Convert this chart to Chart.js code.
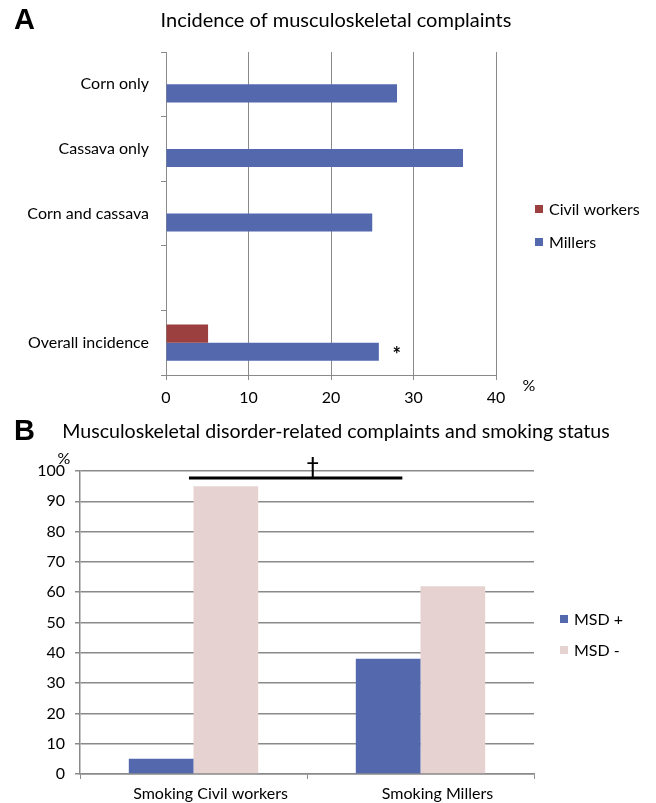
<!DOCTYPE html>
<html>
<head>
<meta charset="utf-8">
<script src="https://cdn.jsdelivr.net/npm/chart.js@4.4.1/dist/chart.umd.min.js"></script>
<style>
  html, body { margin: 0; padding: 0; background: #fff; }
  #wrapA { position: absolute; left: 0; top: 0; width: 656px; height: 410px; }
  #wrapB { position: absolute; left: 0; top: 410px; width: 656px; height: 393px; }
</style>
</head>
<body>
<div id="wrapA"><canvas id="chartA"></canvas></div>
<div id="wrapB"><canvas id="chartB"></canvas></div>
<script>
// panel A data
const groupsA = ["Corn only", "Cassava only", "Corn and cassava", "", "Overall incidence"]
const civilWorkers = [0, 0, 0, null, 5.1]
const millers = [28, 36, 25, null, 25.8]
const ticksA = [0, 10, 20, 30, 40]

// panel B data
const groupsB = ["Smoking Civil workers", "Smoking Millers"]
const msdPlus = [5, 38]
const msdMinus = [95, 62]
// significance bar (category index from/to, y value, dagger index)
const sigBar = { from: -0.02, to: 0.92, y: 97.7, mark: 0.525 }

const FONT = "Lato, 'Open Sans', sans-serif"
const BLUE = "#5468ae"
const RED = "#9b3f3f"
const PINK = "#e6d3d1"
const GRID = "#8a8a8a"

Chart.defaults.font.family = FONT
Chart.defaults.color = "#000"
Chart.defaults.animation = false

// draws panel letter, title, own legend and small marks
function extras(opts) {
  return {
    id: "extras",
    afterDraw(chart) {
      const ctx = chart.ctx
      const area = chart.chartArea
      ctx.save()
      ctx.fillStyle = "#000"
      ctx.textBaseline = "middle"
      // panel letter
      ctx.font = "bold 29px 'Liberation Sans', Arial, sans-serif"
      ctx.textAlign = "left"
      ctx.fillText(opts.letter, opts.letterX, opts.titleY)
      // title
      ctx.font = opts.titleSize + "px " + FONT
      ctx.textAlign = "center"
      ctx.fillText(opts.title, opts.titleX, opts.titleY)
      // legend
      ctx.font = "16px " + FONT
      ctx.textAlign = "left"
      opts.legendOrder.forEach((di, i) => {
        const ds = chart.data.datasets[di]
        const y = opts.legendY + i * opts.legendGap
        ctx.fillStyle = ds.backgroundColor
        ctx.fillRect(opts.legendX, y - 4, 8, 8)
        ctx.fillStyle = "#000"
        ctx.fillText(ds.label, opts.legendX + 14, y + 1)
      })
      // percent sign
      ctx.font = "16px " + FONT
      ctx.textAlign = "center"
      ctx.fillText("%", opts.pctX(area), opts.pctY(area))
      if (opts.more) opts.more(chart, ctx)
      ctx.restore()
    }
  }
}

new Chart(document.getElementById("chartA"), {
  type: "bar",
  data: {
    labels: groupsA,
    datasets: [
      { label: "Civil workers", data: civilWorkers, backgroundColor: RED },
      { label: "Millers", data: millers, backgroundColor: BLUE }
    ]
  },
  options: {
    indexAxis: "y",
    responsive: true,
    maintainAspectRatio: false,
    layout: { padding: { top: 52, right: 160, left: 0, bottom: 0 } },
    datasets: { bar: { categoryPercentage: 0.56, barPercentage: 1.0 } },
    plugins: { legend: { display: false }, tooltip: { enabled: false } },
    scales: {
      x: {
        min: 0, max: 40,
        afterBuildTicks(s) { s.ticks = ticksA.map(v => ({ value: v })) },
        afterFit(s) { s.height = 35 },
        grid: { color: GRID, lineWidth: 1, tickLength: 5 },
        border: { color: GRID, width: 1 },
        ticks: { padding: 8, font: { size: 16 }, color: "#000" }
      },
      y: {
        afterFit(s) { s.width = 166 },
        grid: { drawOnChartArea: false, color: GRID, tickLength: 5, offset: true },
        border: { color: GRID, width: 1 },
        ticks: { padding: 12, font: { size: 16 }, color: "#000" }
      }
    }
  },
  plugins: [extras({
    letter: "A", letterX: 14, titleY: 21,
    title: "Incidence of musculoskeletal complaints", titleSize: 20, titleX: 336,
    legendOrder: [0, 1], legendX: 535, legendY: 209, legendGap: 33,
    pctX: a => a.right + 33, pctY: a => a.bottom + 11,
    more(chart, ctx) {
      const bar = chart.getDatasetMeta(1).data[4]
      ctx.font = "bold 20px " + FONT
      ctx.textAlign = "center"
      ctx.fillText("*", bar.x + 18, bar.y + 4)
    }
  })]
})

new Chart(document.getElementById("chartB"), {
  type: "bar",
  data: {
    labels: groupsB,
    datasets: [
      { label: "MSD +", data: msdPlus, backgroundColor: BLUE },
      { label: "MSD -", data: msdMinus, backgroundColor: PINK }
    ]
  },
  options: {
    responsive: true,
    maintainAspectRatio: false,
    layout: { padding: { top: 61, right: 122, left: 0, bottom: 0 } },
    datasets: { bar: { categoryPercentage: 0.57, barPercentage: 1.0 } },
    plugins: { legend: { display: false }, tooltip: { enabled: false } },
    scales: {
      x: {
        afterFit(s) { s.height = 29 },
        grid: { drawOnChartArea: false, color: GRID, tickLength: 5, offset: true },
        border: { color: GRID, width: 1.5 },
        ticks: { padding: 5, labelOffset: 17, font: { size: 16 }, color: "#000" }
      },
      y: {
        min: 0, max: 100,
        afterFit(s) { s.width = 80 },
        grid: { color: GRID, lineWidth: 1.5, tickLength: 5 },
        border: { color: GRID, width: 1.5 },
        ticks: { stepSize: 10, padding: 10, font: { size: 16 }, color: "#000" }
      }
    }
  },
  plugins: [extras({
    letter: "B", letterX: 14, titleY: 22,
    title: "Musculoskeletal disorder-related complaints and smoking status", titleSize: 19.6, titleX: 336,
    legendOrder: [0, 1], legendX: 560, legendY: 209, legendGap: 31,
    pctX: a => a.left - 16, pctY: a => a.top - 12,
    more(chart, ctx) {
      const xs = chart.scales.x, ys = chart.scales.y
      const x1 = xs.getPixelForValue(sigBar.from)
      const x2 = xs.getPixelForValue(sigBar.to)
      const y = ys.getPixelForValue(sigBar.y)
      ctx.strokeStyle = "#000"
      ctx.lineWidth = 3
      ctx.beginPath()
      ctx.moveTo(x1, y)
      ctx.lineTo(x2, y)
      ctx.stroke()
      ctx.font = "24px 'DejaVu Sans', sans-serif"
      ctx.textAlign = "center"
      ctx.textBaseline = "bottom"
      ctx.fillText("\u2020", xs.getPixelForValue(sigBar.mark), y + 3)
    }
  })]
})
</script>
</body>
</html>
